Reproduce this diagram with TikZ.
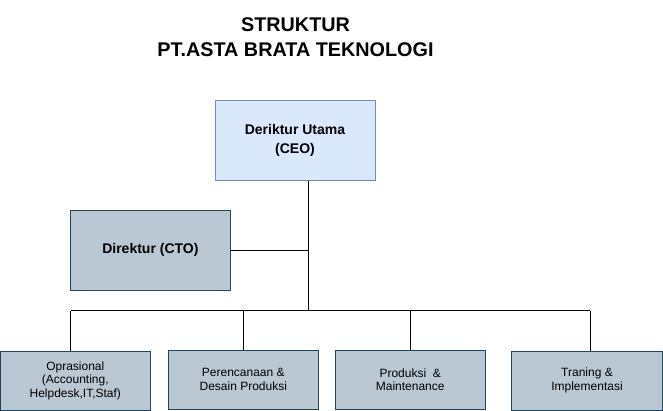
\documentclass[tikz,border=0pt]{standalone}
\usepackage{fontspec}
\setmainfont{Liberation Sans}
\definecolor{ceofill}{HTML}{DAE8FC}
\definecolor{ceoline}{HTML}{6C8EBF}
\definecolor{greyfill}{HTML}{BAC8D3}
\definecolor{greyline}{HTML}{23445D}
\tikzset{
  ceobox/.style={draw=ceoline, fill=ceofill, line width=1pt, align=center, inner sep=0pt,
    font=\fontsize{14}{18.5}\selectfont\bfseries},
  ctobox/.style={draw=greyline, fill=greyfill, line width=1pt, align=center, inner sep=0pt,
    font=\fontsize{14}{18.5}\selectfont\bfseries},
  unitbox/.style={draw=greyline, fill=greyfill, line width=1pt, align=center, inner sep=0pt,
    minimum width=150pt, minimum height=59pt, font=\fontsize{12}{13.5}\selectfont},
  conn/.style={draw=black, line width=1pt},
  titletext/.style={align=center, font=\fontsize{19.8}{25}\selectfont\bfseries}
}
\begin{document}
\begin{tikzpicture}[x=1pt,y=-1pt]
\useasboundingbox (0,0) rectangle (663,411);
\node[titletext] (title) at (295.5,36.7) {STRUKTUR\\PT.ASTA BRATA TEKNOLOGI};
\node[ceobox, minimum width=160pt, minimum height=79.5pt] (ceo) at (295,140.3) {Deriktur Utama\\(CEO)};
\node[ctobox, minimum width=160.5pt, minimum height=79.5pt] (cto) at (150.4,250.3) {Direktur (CTO)};
\node[unitbox, minimum width=150.5pt] (op) at (75.3,380.5) {Oprasional\\(Accounting,\\Helpdesk,IT,Staf)};
\node[unitbox] (pd) at (243.3,379.5) {Perencanaan \&\\Desain Produksi};
\node[unitbox] (pm) at (410.2,379.5) {Produksi\ \ \&\\Maintenance};
\node[unitbox, minimum width=150.5pt] (ti) at (587,380.5) {Traning \&\\Implementasi};
\coordinate (j) at (308.3,310.7);
\coordinate (h1) at (70.7,310.7);
\coordinate (h2) at (243.3,310.7);
\coordinate (h3) at (410.7,310.7);
\coordinate (h4) at (590,310.7);
\draw[conn] (ceo.south -| j) -- (j);
\draw[conn] (cto.east) -- (cto.east -| j);
\draw[conn] (h1) -- (h4);
\draw[conn] (h1) -- (h1 |- op.north);
\draw[conn] (h2) -- (h2 |- pd.north);
\draw[conn] (h3) -- (h3 |- pm.north);
\draw[conn] (h4) -- (h4 |- ti.north);
\end{tikzpicture}
\end{document}
